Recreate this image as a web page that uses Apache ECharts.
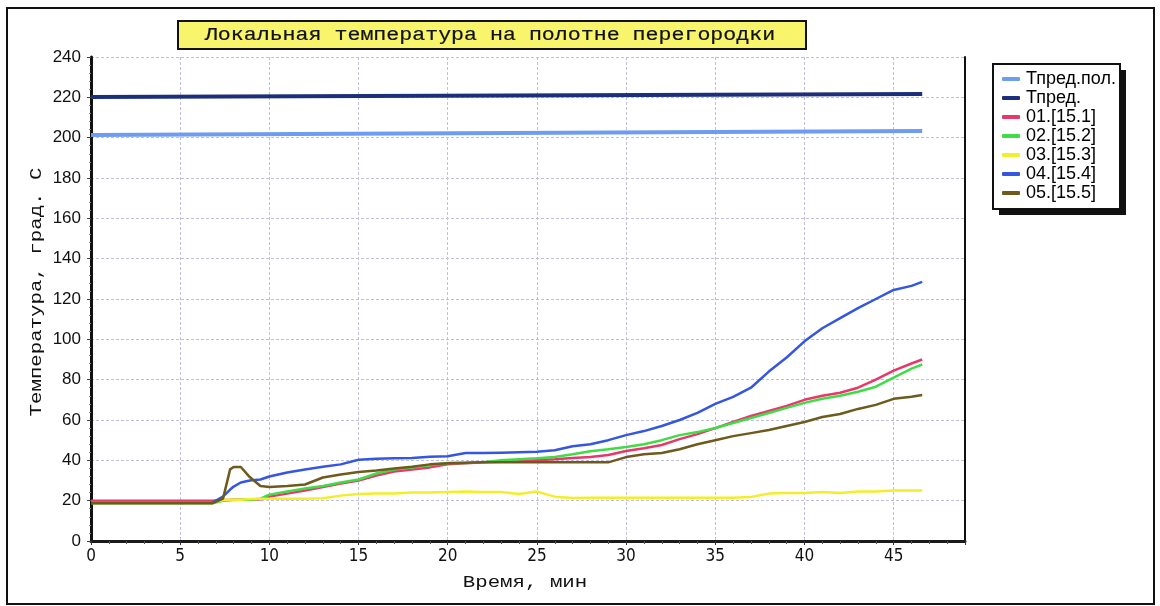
<!DOCTYPE html>
<html>
<head>
<meta charset="utf-8">
<script src="https://cdn.jsdelivr.net/npm/echarts@6/dist/echarts.min.js"></script>
<style>
  html, body { margin: 0; padding: 0; background: #ffffff; }
  #chart { width: 1160px; height: 606px; }
</style>
</head>
<body>
<div id="chart"></div>
<script>
// Time, minutes
const time = [0, 6.8, 7.4, 7.8, 8.0, 8.4, 8.9, 9.5,
  10, 11, 12, 13, 14, 15, 16, 17, 18, 19,
  20, 21, 22, 23, 24, 25, 26, 27, 28, 29,
  30, 31, 32, 33, 34, 35, 36, 37, 38, 39,
  40, 41, 42, 43, 44, 45, 46, 46.6];

// Limit temperatures (start / end of test)
const limitTime = [0, 46.6];
const tPredPol = [201.3, 203.3];
const tPred = [220.2, 221.6];

// Thermocouple readings, °C
const t01 = [20, 20, 20.3, 20.4, 20.5, 20.5, 20.5, 20.7,
  22, 23.5, 25, 26.8, 28.5, 30, 32.5, 34.5, 35.5, 36.5,
  38, 38.5, 39, 39.3, 39.5, 40, 40.5, 41.2, 41.6, 42.6,
  44.6, 46, 47.6, 50.5, 53, 56, 59, 62, 64.5, 67,
  70, 72, 73.5, 76, 80, 84.5, 88, 90];
const t02 = [18.7, 18.7, 20, 20.2, 20.3, 20.4, 20.5, 21,
  23, 24.5, 26, 27.3, 29, 30.5, 33.5, 35.5, 36.5, 37.5,
  38.7, 38.7, 39, 40, 40.5, 41, 41.6, 43, 44.5, 45.5,
  46.6, 48, 50, 52.5, 54, 56, 58.5, 61, 63.5, 66,
  68.5, 70.5, 72, 74, 76.5, 81, 85.5, 87.5];
const t03 = [19, 19, 20.3, 20.5, 20.5, 20.5, 20.8, 21,
  21, 21, 21, 21.2, 22.5, 23.3, 23.5, 23.5, 24, 24,
  24.3, 24.5, 24.3, 24.3, 23.3, 24.5, 22, 21.3, 21.5, 21.5,
  21.5, 21.5, 21.5, 21.5, 21.5, 21.5, 21.5, 21.8, 23.5, 23.8,
  23.8, 24.3, 23.8, 24.6, 24.6, 25, 25, 25];
const t04 = [19, 19, 22, 25.5, 27, 29, 30, 30.5,
  32, 34, 35.5, 36.8, 38, 40.3, 40.8, 41, 41.2, 41.8,
  42, 43.6, 43.6, 43.8, 44, 44.2, 45, 47, 48, 50,
  52.5, 54.5, 57, 60, 63.5, 68, 71.5, 76, 84, 91,
  99, 105.5, 110.5, 115.5, 120, 124.5, 126.5, 128.5];
const t05 = [18.7, 18.7, 21, 35.5, 36.7, 36.7, 31.7, 27.3,
  26.8, 27.3, 28, 31.5, 33, 34.2, 35, 36, 36.8, 38,
  38.5, 38.8, 39, 39, 39, 39, 39, 39, 39, 39,
  41.6, 43, 43.6, 45.5, 48, 50, 52, 53.5, 55, 57,
  59, 61.5, 63, 65.5, 67.5, 70.5, 71.5, 72.4];

const seriesNames = ['Тпред.пол.', 'Тпред.', '01.[15.1]', '02.[15.2]', '03.[15.3]', '04.[15.4]', '05.[15.5]'];
const seriesColors = ['#6f9cf0', '#1c2f7c', '#e8386a', '#40dc48', '#f2ee2a', '#3556e0', '#6e5a1c'];

const titleText = 'Локальная температура на полотне перегородки';
const xName = 'Время, мин';
const yName = 'Температура, град. С';

const pairs = (xs, ys) => xs.map((x, i) => [x, ys[i]]);
const seriesData = [
  pairs(limitTime, tPredPol),
  pairs(limitTime, tPred),
  pairs(time, t01),
  pairs(time, t02),
  pairs(time, t03),
  pairs(time, t04),
  pairs(time, t05)
];

const monoFont = '"Liberation Mono", "DejaVu Sans Mono", monospace';
const sansFont = '"Liberation Sans", Arial, sans-serif';
const narrowFont = '"Liberation Sans Narrow", "DejaVu Sans Condensed", "Liberation Sans", sans-serif';

const chart = echarts.init(document.getElementById('chart'), null, { renderer: 'canvas' });

chart.setOption({
  backgroundColor: '#ffffff',
  animation: false,
  grid: { left: 91, top: 57, right: 195, bottom: 65, containLabel: false },
  xAxis: {
    type: 'value',
    min: 0,
    max: 49,
    interval: 5,
    axisLine: { show: true, onZero: false, lineStyle: { color: '#1a1a1a', width: 3 } },
    axisTick: { show: true, length: 4, lineStyle: { color: '#333', width: 1 } },
    minorTick: { show: true, splitNumber: 5, length: 3, lineStyle: { color: '#555', width: 1 } },
    axisLabel: { showMaxLabel: false, margin: 7, fontFamily: narrowFont, fontSize: 17, color: '#111' },
    splitLine: { show: true, lineStyle: { color: '#c0c0de', type: [3, 2], width: 1 } }
  },
  yAxis: [
    {
      type: 'value',
      min: 0,
      max: 240,
      interval: 20,
      axisLine: { show: true, lineStyle: { color: '#111', width: 3 } },
      axisTick: { show: true, length: 4, lineStyle: { color: '#444', width: 1 } },
      minorTick: { show: true, splitNumber: 5, length: 2, lineStyle: { color: '#888', width: 1 } },
      axisLabel: { margin: 10, fontFamily: sansFont, fontSize: 17, color: '#111' },
      splitLine: { show: true, lineStyle: { color: '#c0c0de', type: [3, 2], width: 1 } }
    },
    {
      type: 'value',
      position: 'right',
      min: 0,
      max: 240,
      interval: 20,
      axisLine: { show: true, lineStyle: { color: '#111', width: 2 } },
      axisTick: { show: false },
      axisLabel: { show: false },
      splitLine: { show: false }
    }
  ],
  legend: {
    orient: 'vertical',
    left: 1002,
    top: 70,
    z: 10,
    itemGap: 1,
    itemWidth: 18,
    itemHeight: 4,
    icon: 'roundRect',
    padding: 0,
    textStyle: { fontFamily: sansFont, fontSize: 18, color: '#000', padding: [0, 0, 0, 1] },
    data: seriesNames
  },
  graphic: [
    // outer frame
    { type: 'rect', z: 0, shape: { x: 7, y: 8, width: 1147, height: 596 },
      style: { fill: 'none', stroke: '#111', lineWidth: 2 } },
    // title box
    { type: 'rect', z: 1, shape: { x: 178, y: 21, width: 628, height: 28 },
      style: { fill: '#f8f56c', stroke: '#111', lineWidth: 2 } },
    { type: 'text', z: 2, x: 490, y: 35, scaleX: 1.2,
      style: { text: titleText, fontFamily: monoFont, fontSize: 18, fill: '#111', stroke: '#111', lineWidth: 0.2, align: 'center', verticalAlign: 'middle' } },
    // legend frame with drop shadow
    { type: 'rect', z: 1, shape: { x: 999, y: 70, width: 127, height: 145 },
      style: { fill: '#111' } },
    { type: 'rect', z: 2, shape: { x: 993, y: 64, width: 127, height: 145 },
      style: { fill: '#ffffff', stroke: '#111', lineWidth: 2 } },
    // axis names
    { type: 'text', z: 2, x: 525, y: 582, scaleX: 1.22,
      style: { text: xName, fontFamily: monoFont, fontSize: 17, fill: '#111', align: 'center', verticalAlign: 'middle' } },
    { type: 'text', z: 2, x: 36, y: 292, rotation: Math.PI / 2, scaleX: 1.22,
      style: { text: yName, fontFamily: monoFont, fontSize: 17, fill: '#111', align: 'center', verticalAlign: 'middle' } }
  ],
  series: seriesNames.map((name, i) => ({
    name: name,
    type: 'line',
    data: seriesData[i],
    showSymbol: false,
    symbol: 'none',
    color: seriesColors[i],
    lineStyle: { width: i < 2 ? 4 : 2.5, color: seriesColors[i] },
    z: 3 + i
  }))
});
</script>
</body>
</html>
